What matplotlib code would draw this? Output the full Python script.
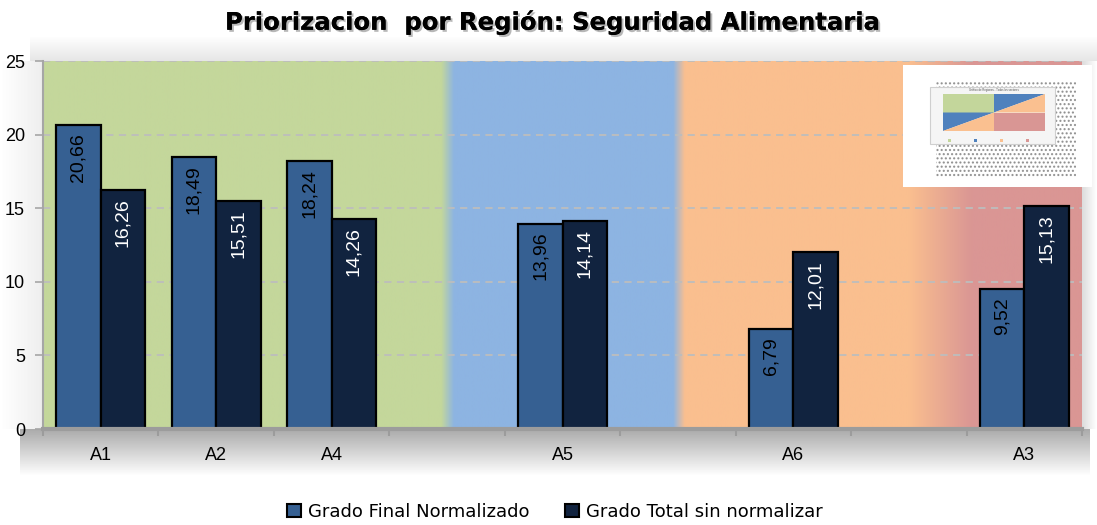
import numpy as np
import matplotlib
matplotlib.use('Agg')
import matplotlib.pyplot as plt
import matplotlib.patheffects as pe
from matplotlib.patches import Rectangle, Polygon

# datos (las posiciones vacías separan los grupos de regiones)
categorias = ['A1', 'A2', 'A4', '', 'A5', '', 'A6', '', 'A3']
grado_final = [20.66, 18.49, 18.24, None, 13.96, None, 6.79, None, 9.52]
grado_total = [16.26, 15.51, 14.26, None, 14.14, None, 12.01, None, 15.13]
series = ['Grado Final Normalizado', 'Grado Total sin normalizar']
yticks = [0, 5, 10, 15, 20, 25]

c_final = '#366092'
c_total = '#11233F'
plt.rcParams['font.family'] = ['Liberation Sans', 'DejaVu Sans']

W, H = 1097, 525
fig = plt.figure(figsize=(W / 100, H / 100), dpi=100)
fig.patch.set_facecolor('white')

# fondo con sombras suaves (coordenadas en pixeles)
bg = fig.add_axes([0, 0, 1, 1], zorder=-2)
bg.set_xlim(0, W)
bg.set_ylim(H, 0)
bg.axis('off')


def sombra(ax, x0, x1, y0, y1, a0, a1, vertical=True, gris=0.45):
    n = 64
    a = np.linspace(a0, a1, n)
    img = np.zeros((n, 1, 4)) if vertical else np.zeros((1, n, 4))
    img[..., :3] = gris
    if vertical:
        img[:, 0, 3] = a
    else:
        img[0, :, 3] = a
    ax.imshow(img, extent=(x0, x1, y1, y0), aspect='auto', interpolation='bilinear')


sombra(bg, 20, 1090, 429, 476, 0.6, 0.0)
sombra(bg, 30, 1097, 36, 61, 0.0, 0.18)
sombra(bg, 0, 43, 61, 429, 0.0, 0.12, vertical=False)
sombra(bg, 1082, 1097, 61, 429, 0.25, 0.0, vertical=False)

ax = fig.add_axes([43 / W, 96 / H, 1039 / W, 368 / H])
x = np.arange(len(categorias))
ax.set_xlim(-0.5, len(categorias) - 0.5)
ax.set_ylim(0, 25)

# bandas de color de las regiones
xs = np.linspace(-0.5, 8.5, 1800)
anc = [-0.5, 2.95, 3.06, 4.96, 5.06, 7.0, 7.55, 8.5]
cols = np.array([[196, 215, 155], [196, 215, 155], [141, 180, 226], [141, 180, 226],
                 [250, 191, 143], [250, 191, 143], [218, 150, 148], [218, 150, 148]]) / 255
grad = np.stack([np.interp(xs, anc, cols[:, k]) for k in range(3)], axis=-1)[None, :, :]
ax.imshow(grad, extent=(-0.5, 8.5, 0, 25), aspect='auto', zorder=0)

ax.set_axisbelow(True)
ax.yaxis.grid(True, linestyle=(0, (4, 3)), color='#BDBDBD', linewidth=1.3)

w = 0.385
for xi, v in zip(x, grado_final):
    if v is None:
        continue
    ax.bar(xi - w, v, w, align='edge', color=c_final, edgecolor='black', linewidth=1.6, zorder=2)
    ax.annotate(f'{v:.2f}'.replace('.', ','), (xi - w / 2, v), xytext=(0, -6),
                textcoords='offset points', rotation=90, ha='center', va='top',
                fontsize=14, color='black', zorder=3)
for xi, v in zip(x, grado_total):
    if v is None:
        continue
    ax.bar(xi, v, w, align='edge', color=c_total, edgecolor='black', linewidth=1.6, zorder=2)
    ax.annotate(f'{v:.2f}'.replace('.', ','), (xi + w / 2, v), xytext=(0, -6),
                textcoords='offset points', rotation=90, ha='center', va='top',
                fontsize=14, color='white', zorder=3)

for s in ['top', 'right']:
    ax.spines[s].set_visible(False)
ax.spines['left'].set_color('#A6A6A6')
ax.spines['left'].set_linewidth(1.5)
ax.spines['bottom'].set_color('#9C9C9C')
ax.spines['bottom'].set_linewidth(3)

ax.set_yticks(yticks)
ax.tick_params(axis='y', length=6, color='#A6A6A6', width=1.2, labelsize=13, pad=7)
ax.set_xticks(x)
ax.set_xticklabels(categorias)
ax.set_xticks(np.arange(-0.5, len(categorias)), minor=True)
ax.tick_params(axis='x', which='major', length=0, labelsize=13, pad=13)
ax.tick_params(axis='x', which='minor', length=5, color='#9C9C9C', width=1.5)

fig.text(551 / W, 1 - 22 / H, 'Priorizacion  por Región: Seguridad Alimentaria',
         ha='center', va='center', fontsize=17.5, fontweight='bold', family=['DejaVu Sans'],
         path_effects=[pe.withSimplePatchShadow(offset=(1.5, -1.5), shadow_rgbFace='#888888', alpha=0.6),
                       pe.Normal()])

handles = [Rectangle((0, 0), 1, 1, facecolor=c_final, edgecolor='black', linewidth=1.5),
           Rectangle((0, 0), 1, 1, facecolor=c_total, edgecolor='black', linewidth=1.5)]
fig.legend(handles, series, loc='center', bbox_to_anchor=(555 / W, 13 / H), ncol=2,
           frameon=False, prop={'family': ['DejaVu Sans'], 'size': 13},
           handlelength=0.75, handleheight=0.75, handletextpad=0.4, columnspacing=2.0)

# imagen pequeña incrustada (esquina superior derecha)
ins = fig.add_axes([903 / W, 1 - 187 / H, 189 / W, 122 / H], zorder=5)
ins.set_xlim(903, 1092)
ins.set_ylim(187, 65)
ins.set_facecolor('white')
ins.set_xticks([])
ins.set_yticks([])
for s in ins.spines.values():
    s.set_visible(False)
ins.add_patch(Rectangle((936, 82), 140, 96, facecolor='none', edgecolor='#555555',
                        hatch='....', linewidth=0, alpha=0.6))
ins.add_patch(Rectangle((930, 87), 125, 57, facecolor='#F5F5F5', edgecolor='#CFCFCF', linewidth=0.8))
x0, x1, y0, y1 = 943, 1045, 94, 131
xm, ym = (x0 + x1) / 2, (y0 + y1) / 2
g, b, o, r = '#C3D69B', '#4F81BD', '#FAC090', '#D99694'
ins.add_patch(Rectangle((x0, y0), xm - x0, ym - y0, facecolor=g, linewidth=0))
ins.add_patch(Rectangle((xm, ym), x1 - xm, y1 - ym, facecolor=r, linewidth=0))
ins.add_patch(Polygon([(xm, y0), (x1, y0), (xm, ym)], facecolor=b, linewidth=0))
ins.add_patch(Polygon([(xm, ym), (x1, y0), (x1, ym)], facecolor=o, linewidth=0))
ins.add_patch(Polygon([(x0, ym), (xm, ym), (x0, y1)], facecolor=b, linewidth=0))
ins.add_patch(Polygon([(x0, y1), (xm, ym), (xm, y1)], facecolor=o, linewidth=0))
ins.text(994, 90.5, 'Gráfico de Regiones - Todos los sectores', fontsize=2, ha='center',
         va='center', color='#555555')
for k, cc in enumerate([g, b, o, r]):
    ins.add_patch(Rectangle((948 + k * 26, 139), 2.5, 2.5, facecolor=cc, linewidth=0))

fig.savefig('out.png', dpi=100)
